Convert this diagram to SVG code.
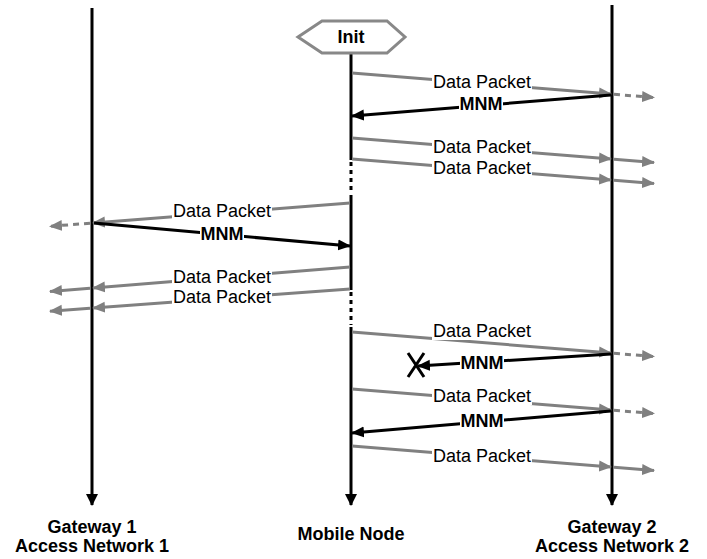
<svg xmlns="http://www.w3.org/2000/svg" width="707" height="559" viewBox="0 0 707 559">
<defs>
<marker id="ag" markerUnits="userSpaceOnUse" markerWidth="14" markerHeight="12" refX="12" refY="6" orient="auto"><path d="M0,0.5 L13,6 L0,11.5 z" fill="#808080"/></marker>
<marker id="ab" markerUnits="userSpaceOnUse" markerWidth="14" markerHeight="12" refX="12" refY="6" orient="auto"><path d="M0,0.5 L13,6 L0,11.5 z" fill="#000"/></marker>
<marker id="al" markerUnits="userSpaceOnUse" markerWidth="12" markerHeight="14" refX="11" refY="6" orient="auto"><path d="M0,0 L12,6 L0,12 z" fill="#000"/></marker>
</defs>
<style>
.life{stroke:#000;stroke-width:3;fill:none}
.dot{stroke:#000;stroke-width:3;stroke-dasharray:4 4;fill:none}
.dp{stroke:#808080;stroke-width:3;fill:none}
.dpd{stroke:#808080;stroke-width:3;stroke-dasharray:6 5;fill:none}
.mnm{stroke:#000;stroke-width:3;fill:none}
.lbl{font-family:"Liberation Sans",Arial,sans-serif;font-size:18px;fill:#000;text-anchor:middle}
.b{font-weight:bold}
.bg{fill:#fff}
</style>
<g id="gateway1">
<line class="life" x1="92" y1="8" x2="92" y2="505" marker-end="url(#al)"/>
<text class="lbl b" x="92" y="533">Gateway 1</text>
<text class="lbl b" x="92" y="552">Access Network 1</text>
</g>
<g id="gateway2">
<line class="life" x1="612" y1="5" x2="612" y2="505" marker-end="url(#al)"/>
<text class="lbl b" x="612" y="533">Gateway 2</text>
<text class="lbl b" x="612" y="552">Access Network 2</text>
</g>
<g id="mobilenode">
<line class="life" x1="351" y1="52" x2="351" y2="160"/>
<line class="dot" x1="351" y1="162" x2="351" y2="193"/>
<line class="life" x1="351" y1="195" x2="351" y2="290"/>
<line class="dot" x1="351" y1="292" x2="351" y2="325"/>
<line class="life" x1="351" y1="327" x2="351" y2="505" marker-end="url(#al)"/>
<text class="lbl b" x="351" y="540">Mobile Node</text>
</g>
<g id="init">
<polygon points="298,37 322,21 387,21 405,37 387,53 322,53" fill="#fff" stroke="#888" stroke-width="3"/>
<text class="lbl b" x="351" y="43" font-size="17">Init</text>
</g>
<g id="connectors">
<!-- right side, first block -->
<line class="dp" x1="352" y1="73" x2="611" y2="94" marker-end="url(#ag)"/>
<line class="dpd" x1="614" y1="94.3" x2="654" y2="97.5" marker-end="url(#ag)"/>
<line class="mnm" x1="611" y1="95" x2="352" y2="116" marker-end="url(#ab)"/>
<line class="dp" x1="352" y1="138" x2="611" y2="159" marker-end="url(#ag)"/>
<line class="dp" x1="614" y1="159.3" x2="654" y2="162.5" marker-end="url(#ag)"/>
<line class="dp" x1="352" y1="159" x2="611" y2="180" marker-end="url(#ag)"/>
<line class="dp" x1="614" y1="180.3" x2="654" y2="183.5" marker-end="url(#ag)"/>
<!-- left side -->
<line class="dp" x1="350" y1="203" x2="93" y2="223" marker-end="url(#ag)"/>
<line class="dpd" x1="90" y1="223.2" x2="50" y2="226.3" marker-end="url(#ag)"/>
<line class="mnm" x1="94" y1="223" x2="350" y2="246" marker-end="url(#ab)"/>
<line class="dp" x1="350" y1="267" x2="93" y2="288" marker-end="url(#ag)"/>
<line class="dp" x1="90" y1="288.2" x2="50" y2="291.5" marker-end="url(#ag)"/>
<line class="dp" x1="350" y1="289" x2="93" y2="308" marker-end="url(#ag)"/>
<line class="dp" x1="90" y1="308.2" x2="50" y2="311.2" marker-end="url(#ag)"/>
<!-- right side, second block -->
<line class="dp" x1="352" y1="332" x2="611" y2="353" marker-end="url(#ag)"/>
<line class="dpd" x1="614" y1="353.3" x2="654" y2="356.5" marker-end="url(#ag)"/>
<line class="mnm" x1="611" y1="354" x2="418" y2="366" marker-end="url(#ab)"/>
<path d="M408,353 L424,377 M424,353 L408,377" stroke="#000" stroke-width="3" fill="none"/>
<line class="dp" x1="352" y1="389" x2="611" y2="410" marker-end="url(#ag)"/>
<line class="dpd" x1="614" y1="410.3" x2="654" y2="413.5" marker-end="url(#ag)"/>
<line class="mnm" x1="611" y1="411" x2="352" y2="433" marker-end="url(#ab)"/>
<line class="dp" x1="352" y1="446" x2="611" y2="467" marker-end="url(#ag)"/>
<line class="dp" x1="614" y1="467.3" x2="654" y2="470.5" marker-end="url(#ag)"/>
<!-- labels -->
<rect class="bg" x="432" y="74" width="100" height="17"/><text class="lbl" x="482" y="88">Data Packet</text>
<rect class="bg" x="459" y="97" width="44" height="16"/><text class="lbl b" x="481" y="110">MNM</text>
<rect class="bg" x="432" y="139" width="100" height="17"/><text class="lbl" x="482" y="153">Data Packet</text>
<rect class="bg" x="432" y="160" width="100" height="17"/><text class="lbl" x="482" y="174">Data Packet</text>
<rect class="bg" x="172" y="203" width="100" height="17"/><text class="lbl" x="222" y="217">Data Packet</text>
<rect class="bg" x="200" y="227" width="44" height="16"/><text class="lbl b" x="222" y="240">MNM</text>
<rect class="bg" x="172" y="269" width="100" height="17"/><text class="lbl" x="222" y="283">Data Packet</text>
<rect class="bg" x="172" y="289" width="100" height="17"/><text class="lbl" x="222" y="303">Data Packet</text>
<rect class="bg" x="432" y="323" width="100" height="17"/><text class="lbl" x="482" y="337">Data Packet</text>
<rect class="bg" x="460" y="356" width="44" height="16"/><text class="lbl b" x="482" y="369">MNM</text>
<rect class="bg" x="432" y="388" width="100" height="17"/><text class="lbl" x="482" y="402">Data Packet</text>
<rect class="bg" x="460" y="414" width="44" height="16"/><text class="lbl b" x="482" y="427">MNM</text>
<rect class="bg" x="432" y="448" width="100" height="17"/><text class="lbl" x="482" y="462">Data Packet</text>
</g>
</svg>
